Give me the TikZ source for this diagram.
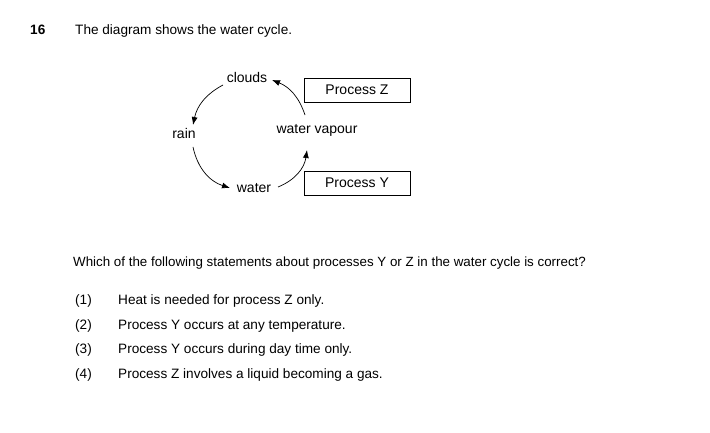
\documentclass[tikz,border=0pt]{standalone}
\usepackage{fontspec}
\setmainfont{Liberation Sans}
\usetikzlibrary{arrows.meta}
\begin{document}
\begin{tikzpicture}[x=1pt,y=-1pt,
  txt/.style={inner sep=0pt,font=\fontsize{13.6}{16}\selectfont},
  lbl/.style={inner sep=1pt,font=\fontsize{14}{16}\selectfont},
  procbox/.style={draw,line width=0.7pt,minimum width=106pt,minimum height=24pt,inner sep=0pt,font=\fontsize{14}{16}\selectfont},
  cyc/.style={line width=0.7pt,-{Latex[length=8pt,width=6pt]}}]
\useasboundingbox (0,0) rectangle (710,433);
\node[txt,anchor=base west,font=\bfseries\fontsize{13.6}{16}\selectfont] (num) at (30,35) {16};
\node[txt,anchor=base west] (title) at (75,35) {The diagram shows the water cycle.};
\node[lbl] (clouds) at (247,77) {clouds};
\node[lbl] (rain) at (184,133) {rain};
\node[lbl] (vapour) at (317,130) {water vapour};
\node[lbl] (water) at (254,188) {water};
\node[procbox] (pz) at (357,90) {Process Z};
\node[procbox] (py) at (357,183) {Process Y};
\coordinate (a1) at (223,85); \coordinate (a2) at (193,125);
\coordinate (b1) at (193,147); \coordinate (b2) at (230,188);
\coordinate (c1) at (278,187); \coordinate (c2) at (307,150);
\coordinate (d1) at (305,115); \coordinate (d2) at (272,80);
\draw[cyc] (a1) to[bend right=25] (a2);
\draw[cyc] (b1) to[bend right=30] (b2);
\draw[cyc] (c1) to[bend right=30] (c2);
\draw[cyc] (d1) to[bend right=25] (d2);
\node[txt,anchor=base west,font=\fontsize{13.35}{16}\selectfont] (q) at (73,266) {Which of the following statements about processes Y or Z in the water cycle is correct?};
\node[txt,anchor=base west] (o1) at (75,304) {(1)};
\node[txt,anchor=base west] (t1) at (118,304) {Heat is needed for process Z only.};
\node[txt,anchor=base west] (o2) at (75,329) {(2)};
\node[txt,anchor=base west] (t2) at (118,329) {Process Y occurs at any temperature.};
\node[txt,anchor=base west] (o3) at (75,353) {(3)};
\node[txt,anchor=base west] (t3) at (118,353) {Process Y occurs during day time only.};
\node[txt,anchor=base west] (o4) at (75,378) {(4)};
\node[txt,anchor=base west] (t4) at (118,378) {Process Z involves a liquid becoming a gas.};
\end{tikzpicture}
\end{document}
